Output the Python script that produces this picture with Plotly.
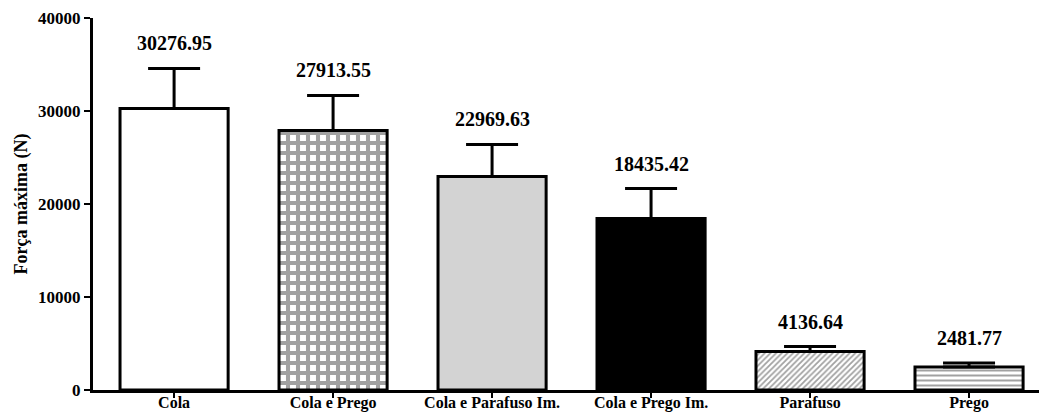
import plotly.graph_objects as go

# Ensaio de força máxima por tipo de ligação
categorias = ["Cola", "Cola e Prego", "Cola e Parafuso Im.", "Cola e Prego Im.", "Parafuso", "Prego"]
forca_media = [30276.95, 27913.55, 22969.63, 18435.42, 4136.64, 2481.77]
desvio = [4300, 3760, 3440, 3230, 540, 430]
y_ticks = [0, 10000, 20000, 30000, 40000]

fundo = ["white", "white", "#d3d3d3", "black", "white", "white"]
padrao = ["", "+", "", "", "/", "-"]
padrao_tam = [8, 10, 8, 8, 4, 5]
padrao_sol = [0.3, 0.65, 0.3, 0.3, 0.45, 0.4]

fonte = "Liberation Serif"

fig = go.Figure()
fig.add_trace(go.Bar(
    x=list(range(len(categorias))),
    y=forca_media,
    width=0.68,
    marker=dict(
        color=fundo,
        line=dict(color="black", width=3),
        pattern=dict(shape=padrao, fgcolor="black", bgcolor=fundo,
                     size=padrao_tam, solidity=padrao_sol, fillmode="overlay"),
    ),
    error_y=dict(type="data", array=desvio, arrayminus=[0] * len(desvio),
                 symmetric=False, color="black", thickness=3, width=26),
    showlegend=False,
))

for i, (v, d) in enumerate(zip(forca_media, desvio)):
    fig.add_annotation(x=i, y=v + d, text=f"{v:.2f}", showarrow=False,
                       yanchor="bottom", yshift=12,
                       font=dict(family=fonte, size=20, color="black", weight="bold"))

fig.update_layout(
    width=1039, height=414,
    margin=dict(l=93, r=0, t=18, b=24, autoexpand=False),
    plot_bgcolor="white", paper_bgcolor="white",
    font=dict(family=fonte, color="black", size=17, weight="bold"),
)
fig.update_xaxes(
    range=[-0.51, 5.44], tickvals=list(range(len(categorias))), ticktext=categorias,
    showline=True, linecolor="black", linewidth=3, ticks="outside", ticklen=5,
    tickwidth=2, tickcolor="black", showgrid=False, zeroline=False, automargin=False,
    ticklabelstandoff=-9,
    tickfont=dict(family=fonte, size=16, color="black", weight="bold"),
)
fig.update_yaxes(
    range=[0, 40000], tickvals=y_ticks, ticktext=[str(t) for t in y_ticks],
    showline=True, linecolor="black", linewidth=3, ticks="outside", ticklen=6,
    tickwidth=2, tickcolor="black", showgrid=False, zeroline=False, automargin=False,
    tickfont=dict(family=fonte, size=17, color="black", weight="bold"),
    title=dict(text="Força máxima (N)", standoff=6,
               font=dict(family=fonte, size=18, color="black", weight="bold")),
)

fig.write_html("out.html")
